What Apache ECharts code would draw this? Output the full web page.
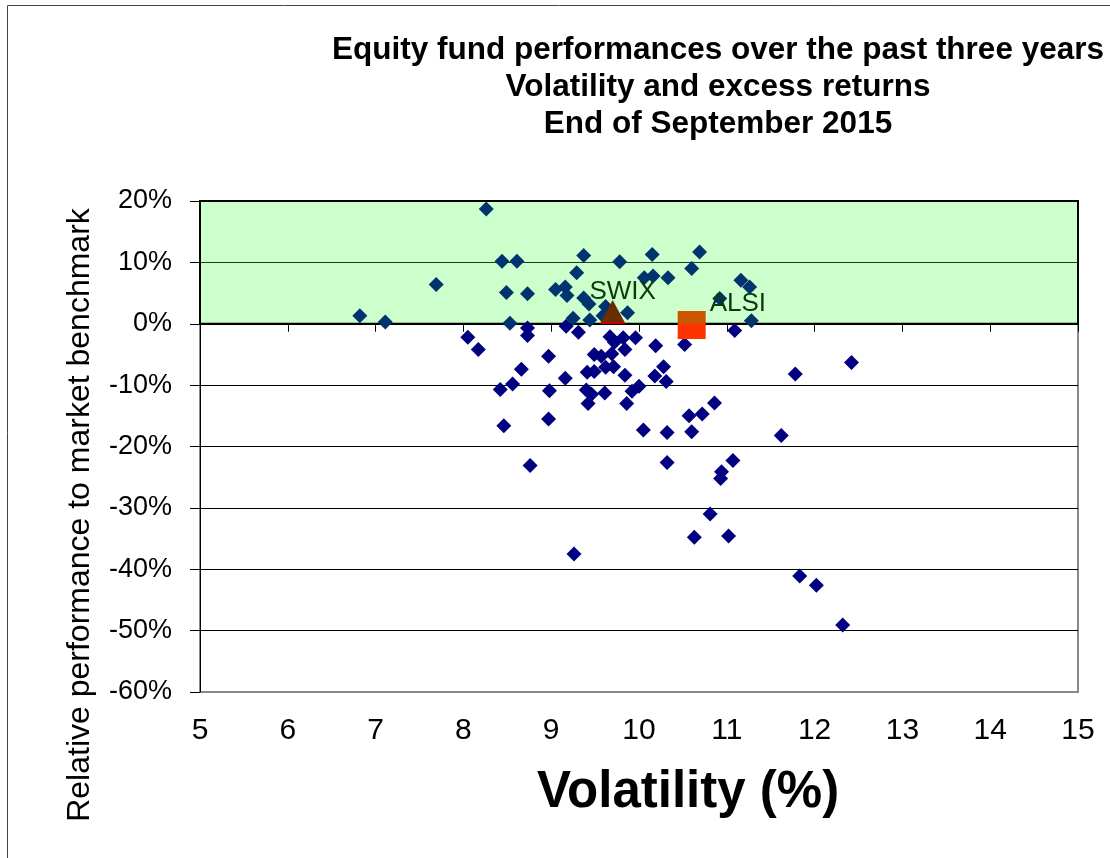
<!DOCTYPE html>
<html>
<head>
<meta charset="utf-8">
<script src="https://cdn.jsdelivr.net/npm/echarts@6/dist/echarts.min.js"></script>
<style>
html,body{margin:0;padding:0;background:#fff;}
#chart{width:1110px;height:858px;}
</style>
</head>
<body>
<div id="chart"></div>
<script>
// Volatility (%) and relative performance (%) of each equity fund
var fundVolatility = [
  8.26, 6.82, 7.11, 7.69, 8.44, 8.61, 8.49, 8.73, 9.37, 9.29, 9.78, 9.05, 9.16, 9.18, 9.37, 9.43,
  9.62, 9.59, 9.25, 9.44, 9.87, 8.53, 10.15, 10.69, 10.60, 10.06, 10.16, 10.33, 11.16, 11.26, 10.92, 11.28,
  8.73, 8.73, 8.05, 8.17, 9.17, 9.31, 9.67, 9.82, 9.96, 9.72, 9.84, 10.19, 10.52, 11.09,
  9.49, 9.57, 9.69, 8.97, 8.66, 8.56, 8.42, 8.98, 8.46, 8.97, 9.16, 9.41, 9.49, 9.62, 9.71, 9.84,
  10.18, 10.28, 10.31, 9.40, 9.46, 9.61, 9.92, 10.00, 9.42, 9.86, 10.05, 10.32, 10.57, 10.72, 10.86, 10.60,
  8.76, 10.32, 11.07, 10.94, 10.93, 10.81, 10.63, 11.02, 9.26, 12.42, 11.78, 11.62, 11.83, 12.02, 12.32
];
var fundRelative = [
  18.7, 1.3, 0.3, 6.4, 10.2, 10.2, 5.1, 4.9, 11.1, 8.3, 10.1, 5.6, 6.0, 4.6, 4.2, 3.2,
  2.8, 1.3, 0.9, 0.6, 1.8, 0.1, 11.3, 11.7, 9.0, 7.5, 7.8, 7.5, 7.1, 6.0, 4.1, 0.5,
  -0.7, -1.9, -2.2, -4.2, -0.4, -1.4, -2.1, -2.3, -2.3, -3.0, -4.2, -3.6, -3.4, -1.1,
  -5.0, -5.3, -4.9, -5.3, -7.4, -9.8, -10.7, -10.9, -16.6, -15.5, -8.9, -7.9, -7.8, -7.1, -7.0, -8.4,
  -8.5, -7.0, -9.4, -10.8, -11.5, -11.3, -11.0, -10.2, -13.0, -13.0, -17.3, -17.7, -15.0, -14.7, -12.9, -17.6,
  -23.1, -22.6, -22.3, -24.1, -25.2, -31.0, -34.8, -34.6, -37.5, -6.3, -8.2, -18.2, -41.1, -42.6, -49.1
];
var benchmarkNames = ['SWIX', 'ALSI'];
var benchmarkVolatility = [9.70, 10.60];
var benchmarkRelative = [1.9, -0.2];
var xTicks = [5, 6, 7, 8, 9, 10, 11, 12, 13, 14, 15];
var yTicks = [-60, -50, -40, -30, -20, -10, 0, 10, 20];
var titleLines = ['Equity fund performances over the past three years', 'Volatility and excess returns', 'End of September 2015'];
var xAxisTitle = 'Volatility (%)';
var yAxisTitle = 'Relative performance to market benchmark';

var FONT = "'Liberation Sans', Arial, sans-serif";
var fundData = fundVolatility.map(function (v, i) { return [v, fundRelative[i]]; });

var benchStyles = {
  SWIX: {
    symbol: 'triangle', size: [26, 24],
    color: {type: 'linear', x: 0, y: 0, x2: 0, y2: 1, colorStops: [
      {offset: 0, color: '#6b2c00'}, {offset: 0.92, color: '#6b2c00'},
      {offset: 0.92, color: '#cc0000'}, {offset: 1, color: '#cc0000'}]},
    label: {position: 'top', distance: -5, offset: [10, 0]}
  },
  ALSI: {
    symbol: 'rect', size: 28,
    color: {type: 'linear', x: 0, y: 0, x2: 0, y2: 1, colorStops: [
      {offset: 0, color: '#cc5500'}, {offset: 0.45, color: '#cc5500'},
      {offset: 0.45, color: '#ff3300'}, {offset: 1, color: '#ff3300'}]},
    label: {position: 'right', distance: 4, offset: [0, -21]}
  }
};
var benchData = benchmarkNames.map(function (n, i) {
  var s = benchStyles[n];
  return {
    name: n,
    value: [benchmarkVolatility[i], benchmarkRelative[i]],
    symbol: s.symbol, symbolSize: s.size,
    itemStyle: {color: s.color, opacity: 1},
    label: {show: true, formatter: n, position: s.label.position, distance: s.label.distance, offset: s.label.offset,
      color: '#0c3a0c', fontSize: 26, fontFamily: FONT}
  };
});

var chart = echarts.init(document.getElementById('chart'), null, {renderer: 'canvas'});
chart.setOption({
  animation: false,
  backgroundColor: '#fff',
  title: {
    text: titleLines.join('\n'),
    left: 713, top: 27, textAlign: 'center',
    textStyle: {fontFamily: FONT, fontSize: 31.5, fontWeight: 'bold', color: '#000', lineHeight: 37}
  },
  graphic: [{
    type: 'rect', shape: {x: 7.5, y: 5.5, width: 1200, height: 1000},
    style: {fill: 'none', stroke: '#444', lineWidth: 1}, silent: true
  }, {
    type: 'text', x: 80, y: 515, rotation: Math.PI / 2, silent: true,
    style: {text: yAxisTitle, font: '32px ' + FONT, fill: '#000', align: 'center', verticalAlign: 'middle'}
  }, {
    type: 'text', x: 688, y: 793, silent: true,
    style: {text: xAxisTitle, font: 'bold 51px ' + FONT, fill: '#000', align: 'center', verticalAlign: 'middle'}
  }],
  grid: {left: 200, top: 201, right: 32, bottom: 166, show: true, borderColor: '#8a8a8a', borderWidth: 2, backgroundColor: 'transparent'},
  xAxis: [{
    type: 'value', min: xTicks[0], max: xTicks[xTicks.length - 1], interval: 1,
    position: 'bottom',
    axisLine: {show: true, onZero: true, lineStyle: {color: '#000', width: 1}},
    axisTick: {show: true, inside: false, length: 8, lineStyle: {color: '#000'}},
    axisLabel: {show: false},
    splitLine: {show: false}
  }, {
    type: 'value', min: xTicks[0], max: xTicks[xTicks.length - 1], interval: 1,
    position: 'bottom',
    axisLine: {show: false, onZero: false},
    axisTick: {show: false},
    axisLabel: {show: true, margin: 24, fontSize: 30, fontFamily: FONT, color: '#000'},
    splitLine: {show: false}
  }],
  yAxis: {
    type: 'value', min: yTicks[0], max: yTicks[yTicks.length - 1], interval: 10,
    z: 1.5,
    axisLine: {show: true, lineStyle: {color: '#000', width: 1}},
    axisTick: {show: true, inside: false, length: 10, lineStyle: {color: '#000'}},
    axisLabel: {margin: 28, fontSize: 27, fontFamily: FONT, color: '#000', formatter: '{value}%'},
    splitLine: {show: true, lineStyle: {color: ['#8a8a8a', '#000', '#000', '#000', '#000', '#000', '#000', '#1f3f1f', '#000'], width: 1}}
  },
  series: [{
    type: 'scatter', z: 1, data: [], silent: true,
    markArea: {
      silent: true,
      itemStyle: {color: '#ccffcc', borderColor: '#000', borderWidth: 2, opacity: 1},
      data: [[{coord: [xTicks[0], 0]}, {coord: [xTicks[xTicks.length - 1], yTicks[yTicks.length - 1]]}]]
    }
  }, {
    type: 'scatter', z: 3, xAxisIndex: 0,
    symbol: 'diamond', symbolSize: 15,
    itemStyle: {opacity: 1, color: function (p) { return p.value[1] > 0 ? '#00346e' : '#000080'; }},
    data: fundData
  }, {
    type: 'scatter', z: 4, xAxisIndex: 0,
    data: benchData
  }]
});
</script>
</body>
</html>
